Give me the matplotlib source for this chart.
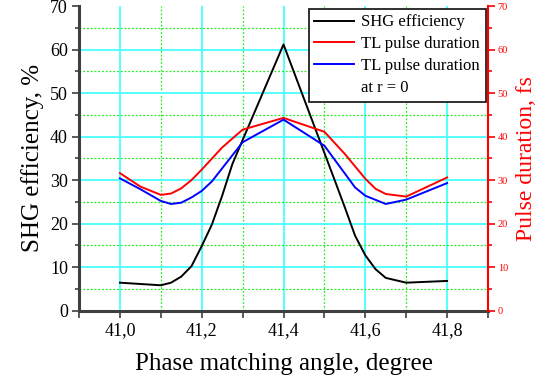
import numpy as np
import matplotlib
matplotlib.use("Agg")
import matplotlib.pyplot as plt
from matplotlib.lines import Line2D
from matplotlib.ticker import MultipleLocator

plt.rcParams["font.family"] = ["Liberation Serif", "DejaVu Serif"]

# SHG efficiency, % (left axis)
shg_angle = [41.0, 41.1, 41.125, 41.15, 41.175, 41.2, 41.225, 41.25, 41.275,
             41.4, 41.525, 41.55, 41.575, 41.6, 41.625, 41.65, 41.7, 41.8]
shg_eff = [6.4, 5.8, 6.4, 7.8, 10.2, 14.8, 19.8, 26.4, 33.7,
           61.2, 30.0, 23.7, 17.2, 12.7, 9.5, 7.5, 6.4, 6.8]

# TL pulse duration, fs (right axis)
tl_angle = [41.0, 41.05, 41.1, 41.125, 41.15, 41.175, 41.2, 41.25, 41.3,
            41.4, 41.5, 41.55, 41.6, 41.625, 41.65, 41.7, 41.8]
tl_dur = [31.6, 28.5, 26.6, 26.9, 28.1, 30.0, 32.4, 37.5, 41.6,
          44.3, 41.1, 36.0, 30.3, 28.0, 26.8, 26.2, 30.6]

# TL pulse duration at r = 0, fs (right axis)
tl0_angle = [41.0, 41.05, 41.1, 41.125, 41.15, 41.175, 41.2, 41.225, 41.3,
             41.4, 41.5, 41.55, 41.575, 41.6, 41.65, 41.7, 41.8]
tl0_dur = [30.4, 27.9, 25.2, 24.5, 24.8, 26.0, 27.5, 29.7, 38.7,
           43.9, 37.9, 31.5, 28.3, 26.4, 24.5, 25.5, 29.3]

x_ticks = [41.0, 41.2, 41.4, 41.6, 41.8]
x_ticklabels = ["41,0", "41,2", "41,4", "41,6", "41,8"]

fig = plt.figure(figsize=(5.39, 3.85), dpi=100)
ax = fig.add_axes([0.1466, 0.1935, 0.7588, 0.7905])

ax.set_xlim(40.9, 41.9)
ax.set_ylim(0, 70)
ax.set_xticks(x_ticks)
ax.set_xticklabels(x_ticklabels)
ax.xaxis.set_minor_locator(MultipleLocator(0.1))
ax.set_yticks(range(0, 71, 10))
ax.yaxis.set_minor_locator(MultipleLocator(5))

ax.grid(True, which="major", color="#55ffff", linewidth=1.4, linestyle="-")
ax.grid(True, which="minor", color="#22ee22", linewidth=0.9, linestyle=(0, (1.5, 1.5)))
ax.set_axisbelow(True)
for gl, t in zip(ax.get_ygridlines(), ax.get_yticks()):
    if t >= 70:
        gl.set_visible(False)

ax.spines["top"].set_visible(False)
ax.spines["right"].set_visible(False)
for s in ("left", "bottom"):
    ax.spines[s].set_color("#404040")
    ax.spines[s].set_linewidth(2.2)
ax.tick_params(axis="both", which="major", direction="out", length=5, width=1.2,
               color="#404040", labelsize=13, pad=3)
ax.tick_params(axis="both", which="minor", direction="out", length=3, width=1.2,
               color="#404040")
ax.tick_params(axis="x", which="minor", length=5)

ax.plot(shg_angle, shg_eff, color="black", linewidth=1.4)

ax2 = ax.twinx()
ax2.set_ylim(0, 70)
ax2.set_yticks(range(0, 71, 10))
ax2.yaxis.set_minor_locator(MultipleLocator(5))
ax2.spines["top"].set_visible(False)
ax2.spines["left"].set_visible(False)
ax2.spines["bottom"].set_visible(False)
ax2.spines["right"].set_color("red")
ax2.spines["right"].set_linewidth(1.5)
ax2.tick_params(axis="y", which="major", direction="out", length=5, width=1.2,
                colors="red", labelsize=7.5, pad=2)
ax2.tick_params(axis="y", which="minor", direction="out", length=3, width=1.2,
                colors="red")

ax2.plot(tl_angle, tl_dur, color="red", linewidth=1.4)
ax2.plot(tl0_angle, tl0_dur, color="blue", linewidth=1.4)

ax.set_xlabel("Phase matching angle, degree", fontsize=18, labelpad=10)
ax.set_ylabel("SHG efficiency, %", fontsize=18, labelpad=4)
ax2.set_ylabel("Pulse duration, fs", fontsize=17, color="red", labelpad=6)

handles = [Line2D([], [], color="black", linewidth=1.4),
           Line2D([], [], color="red", linewidth=1.4),
           Line2D([], [], color="blue", linewidth=1.4),
           Line2D([], [], color="none")]
labels = ["SHG efficiency", "TL pulse duration", "TL pulse duration", "at r = 0"]
leg = ax2.legend(handles, labels, loc="upper right", bbox_to_anchor=(1.0, 1.0),
                 borderaxespad=0.15, fontsize=12, frameon=True, fancybox=False,
                 edgecolor="#202020", framealpha=1, handlelength=2.4,
                 handletextpad=0.4, labelspacing=0.35, borderpad=0.35)
leg.get_frame().set_linewidth(1.3)

fig.savefig("out.png", dpi=100)
